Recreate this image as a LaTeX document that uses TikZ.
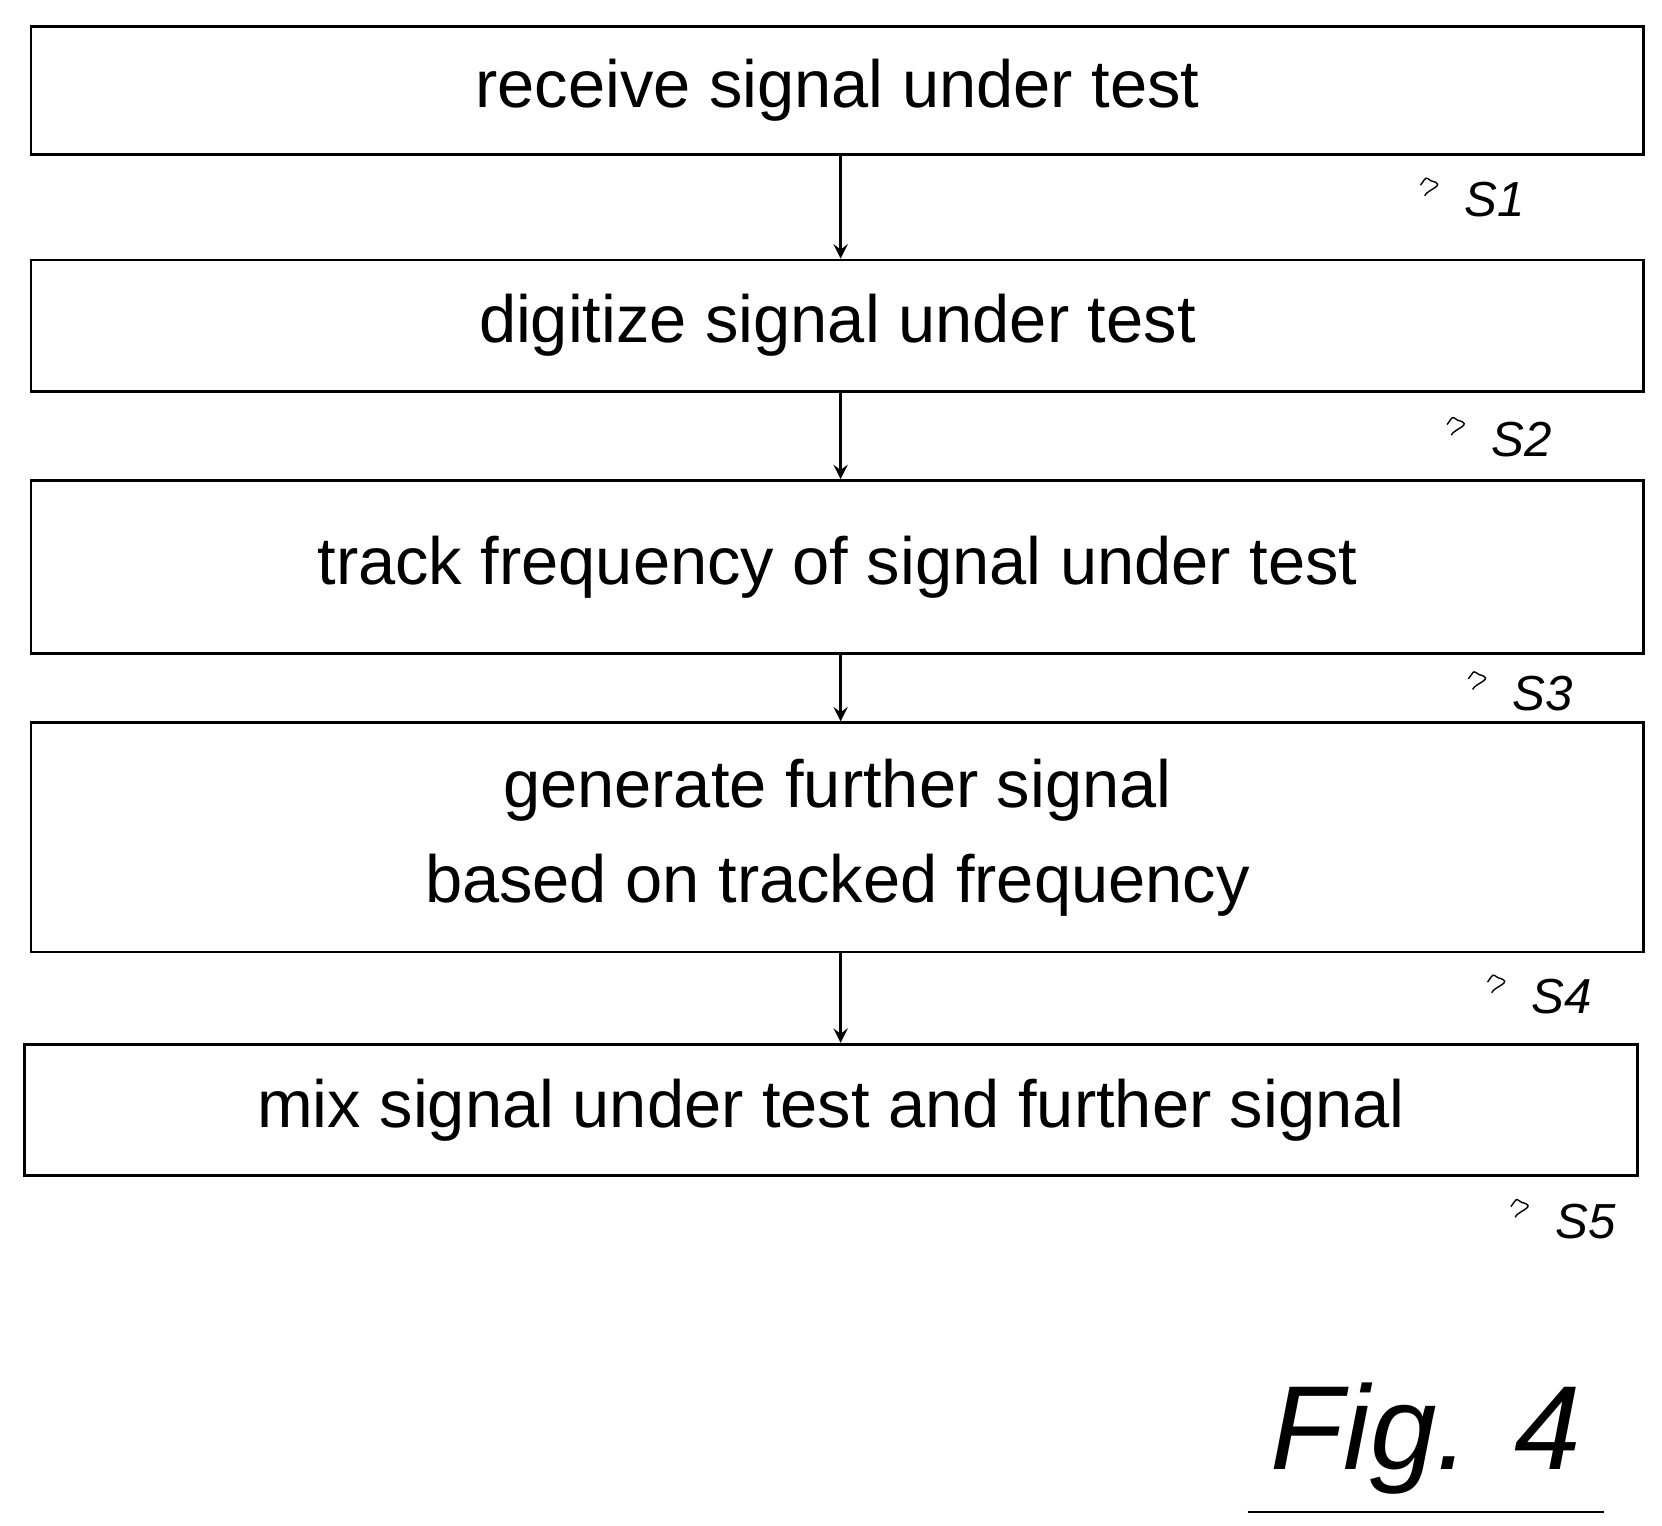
\documentclass[tikz,border=0pt]{standalone}
\usepackage{fontspec}
\setmainfont{Liberation Sans}
\begin{document}
\begin{tikzpicture}[x=0.01064cm, y=-0.01064cm,
    stepbox/.style={draw=black, thick, inner sep=0pt, minimum width=16.12cm,
        font=\fontsize{19}{27}\selectfont, align=center},
    flow/.style={thick, ->, >=stealth},
    steplabel/.style={font=\itshape\fontsize{14}{16}\selectfont, anchor=west}
]
    \useasboundingbox (0,0) rectangle (1562,1434);
    \node[stepbox, minimum height=1.28cm] (s1) at (787,85) {receive signal under test};
    \node[stepbox, minimum height=1.31cm] (s2) at (787,306) {digitize signal under test};
    \node[stepbox, minimum height=1.73cm] (s3) at (787,533) {track frequency of signal under test};
    \node[stepbox, minimum height=2.29cm] (s4) at (787,787) {generate further signal\\based on tracked frequency};
    \node[stepbox, minimum height=1.31cm] (s5) at (781,1043) {mix signal under test and further signal};
    \draw[flow] (s1.south -| 790,0) -- (s2.north -| 790,0);
    \draw[flow] (s2.south -| 790,0) -- (s3.north -| 790,0);
    \draw[flow] (s3.south -| 790,0) -- (s4.north -| 790,0);
    \draw[flow] (s4.south -| 790,0) -- (s5.north -| 790,0);
    % step labels
    \node[steplabel] (l1) at (1365,188) {S1};
    \node[steplabel] (l2) at (1390,413) {S2};
    \node[steplabel] (l3) at (1410,652) {S3};
    \node[steplabel] (l4) at (1428,937) {S4};
    \node[steplabel] (l5) at (1450,1148) {S5};
    \foreach \l in {l1,l2,l3,l4,l5}
        \draw (\l.west) ++(-30,-14) .. controls +(6,-8) and +(-6,-4) .. +(10,-4)
            .. controls +(16,4) and +(2,-6) .. +(4,10);
    \node[font=\itshape\fontsize{34}{36}\selectfont] (fig) at (1340,1352) {Fig. 4};
    \draw[thick] (fig.south west) ++(-10,5) -- ++(335,0);
\end{tikzpicture}
\end{document}
